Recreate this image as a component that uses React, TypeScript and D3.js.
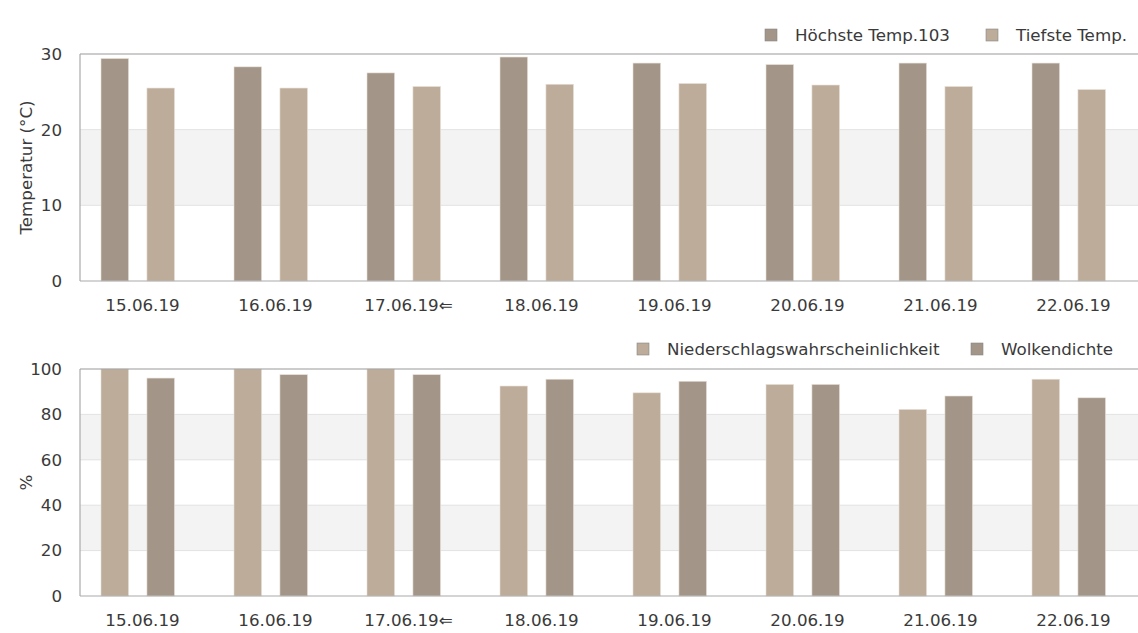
import React from "react";
import * as d3 from "d3";

const days = ["15.06.19", "16.06.19", "17.06.19", "18.06.19", "19.06.19", "20.06.19", "21.06.19", "22.06.19"];
const dayLabels = ["15.06.19", "16.06.19", "17.06.19⇐", "18.06.19", "19.06.19", "20.06.19", "21.06.19", "22.06.19"];
const tempHigh = [29.4, 28.3, 27.5, 29.6, 28.8, 28.6, 28.8, 28.8];
const tempLow = [25.5, 25.5, 25.7, 26.0, 26.1, 25.9, 25.7, 25.3];
const rainProb = [100, 100, 100, 92.5, 89.5, 93.2, 82.2, 95.5];
const cloudCover = [96, 97.5, 97.5, 95.5, 94.6, 93.2, 88.1, 87.3];
const tempTicks = [0, 10, 20, 30];
const pctTicks = [0, 20, 40, 60, 80, 100];

const DARK = "#a39587";
const LIGHT = "#bdac99";
const FONT = "DejaVu Sans, sans-serif";
const TEXT = "#3a3a3a";
const FS = 16.7;

const X0 = 80;
const STEP = 133;
const xScale = d3.scaleBand<string>().domain(days).range([X0, X0 + STEP * days.length]).paddingInner(0).paddingOuter(0);

type Series = { name: string; values: number[]; color: string };

function Panel(props: {
  top: number; bottom: number; max: number; ticks: number[]; bands: [number, number][];
  series: Series[]; title: string; legendY: number; legendX: number[];
}) {
  const { top, bottom, max, ticks, bands, series, title, legendY, legendX } = props;
  const y = d3.scaleLinear().domain([0, max]).range([bottom, top]);
  const inner = d3.scaleBand<string>().domain(series.map(s => s.name)).range([21, 94.5]).paddingInner(0.4).paddingOuter(0);
  const right = 1140;
  return (
    <g>
      {bands.map(([a, b], i) => (
        <rect key={"b" + i} x={X0} y={y(b)} width={right - X0} height={y(a) - y(b)} fill="#f3f3f3" />
      ))}
      {ticks.filter(t => t !== 0 && t !== max).map(t => (
        <line key={"g" + t} x1={X0} x2={right} y1={y(t)} y2={y(t)} stroke="#e2e2e2" strokeWidth={1} />
      ))}
      {series.map(s => s.values.map((v, i) => (
        <rect key={s.name + i} x={(xScale(days[i]) as number) + (inner(s.name) as number)} y={y(v)}
          width={inner.bandwidth()} height={y(0) - y(v)} fill={s.color} stroke="#e8e0d8" strokeWidth={0.6} />
      )))}
      <line x1={X0} x2={right} y1={y(max)} y2={y(max)} stroke="#9a9a9a" strokeWidth={1.2} />
      <line x1={X0} x2={right} y1={y(0)} y2={y(0)} stroke="#aaaaaa" strokeWidth={1.2} />
      <line x1={X0} x2={X0} y1={y(max)} y2={y(0)} stroke="#aaaaaa" strokeWidth={1.2} />
      {ticks.map(t => (
        <text key={"t" + t} x={62} y={y(t)} dy="0.35em" textAnchor="end" fontSize={FS} fill={TEXT} fontFamily={FONT}>{t}</text>
      ))}
      {dayLabels.map((d, i) => (
        <text key={"x" + i} x={(xScale(days[i]) as number) + 62.5} y={bottom + 24} dy="0.35em" textAnchor="middle"
          fontSize={FS} fill={TEXT} fontFamily={FONT}>{d}</text>
      ))}
      <text transform={`translate(32,${(top + bottom) / 2}) rotate(-90)`} textAnchor="middle" fontSize={FS}
        fill={TEXT} fontFamily={FONT}>{title}</text>
      {series.map((s, i) => (
        <g key={"l" + i}>
          <rect x={legendX[i]} y={legendY - 6} width={12} height={12} fill={s.color} stroke="#888" strokeWidth={0.6} />
          <text x={legendX[i] + 30} y={legendY} dy="0.35em" fontSize={FS} fill={TEXT} fontFamily={FONT}>{s.name}</text>
        </g>
      ))}
    </g>
  );
}

export default function App() {
  return (
    <svg width={1138} height={633} style={{ position: "absolute", left: 0, top: 0, background: "#fff" }}>
      <rect width={1138} height={633} fill="#ffffff" />
      <Panel top={54} bottom={281} max={30} ticks={tempTicks} bands={[[10, 20]]}
        series={[{ name: "Höchste Temp.103", values: tempHigh, color: DARK }, { name: "Tiefste Temp.", values: tempLow, color: LIGHT }]}
        title="Temperatur (°C)" legendY={35} legendX={[765, 986]} />
      <Panel top={369} bottom={596} max={100} ticks={pctTicks} bands={[[20, 40], [60, 80]]}
        series={[{ name: "Niederschlagswahrscheinlichkeit", values: rainProb, color: LIGHT }, { name: "Wolkendichte", values: cloudCover, color: DARK }]}
        title="%" legendY={349} legendX={[637, 971]} />
    </svg>
  );
}
